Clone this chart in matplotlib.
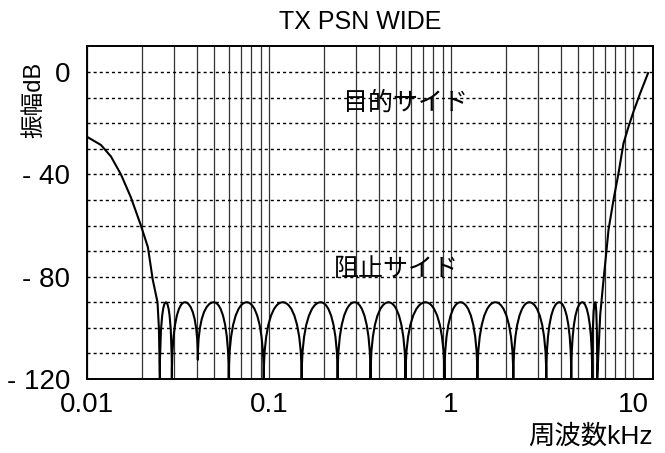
import numpy as np
import matplotlib
matplotlib.use("Agg")
import matplotlib.pyplot as plt
from matplotlib.path import Path
from matplotlib.patches import PathPatch
from matplotlib.ticker import LogLocator, FixedLocator, NullFormatter

plt.rcParams['font.family'] = ['Liberation Sans', 'Noto Sans CJK JP']

# --- data (frequency in kHz, level in dB) ---
# left skirt, falling into the first null
left_f = [0.01, 0.01193, 0.01354, 0.01536, 0.01743, 0.01978, 0.02161, 0.02295, 0.0244, 0.02483]
left_db = [-25.3, -28.5, -33, -40, -49, -60, -68.5, -81, -90, -100]

# stop band nulls and the ripple peaks between them
null_f = [0.02514, 0.02926, 0.04063, 0.0601, 0.09353, 0.1511, 0.2382, 0.3613,
          0.5622, 0.9201, 1.396, 2.199, 3.337, 4.576, 5.967, 6.355]
null_db = [-120, -120, -112.5, -120, -120, -120, -120, -120,
           -120, -120, -120, -120, -120, -120, -120, -120]
peak_f = [0.02713, 0.03448, 0.04973, 0.07545, 0.1189, 0.1921, 0.2952, 0.4536,
          0.7238, 1.126, 1.752, 2.692, 3.932, 5.258, 6.196]
peak_db = [-90, -90, -90, -90, -90, -90, -90, -90,
           -90, -90, -90, -90, -90, -90, -90]

# right skirt, rising out of the last null
right_f = [6.599, 6.855, 7.118, 7.33, 7.806, 8.317, 8.859, 9.436, 10.05, 10.94, 12.15]
right_db = [-95, -82.5, -71, -61.7, -50, -39.6, -27.9, -21.4, -15.5, -8.3, 0]

xticks = [0.01, 0.1, 1, 10]
xticklabels = ['0.01', '0.1', '1', '10']
yticks = [0, -40, -80, -120]
yticklabels = ['0', '- 40', '- 80', '- 120']

title = 'TX PSN WIDE'
ylabel = '振幅dB'
xlabel = '周波数kHz'
pass_label = '目的サイド'
stop_label = '阻止サイド'

# --- figure ---
W, H = 665, 453
fig = plt.figure(figsize=(W / 100, H / 100), dpi=100)
ax = fig.add_axes([87 / W, 1 - 379 / H, (653 - 87) / W, (379 - 46) / H])

ax.set_xscale('log')
ax.set_xlim(0.01, 12.87)
ax.set_ylim(-120, 10.2)

# grid: solid verticals on the log subdivisions, dotted horizontals every 10 dB
ax.xaxis.set_minor_locator(LogLocator(base=10, subs=np.arange(2, 10)))
ax.xaxis.set_minor_formatter(NullFormatter())
ax.yaxis.set_minor_locator(FixedLocator(np.arange(-110, 10, 10)))
ax.grid(axis='x', which='both', color='#333333', lw=0.9, ls='-')
ax.grid(axis='y', which='both', color='black', lw=1.0, ls=(0, (2.2, 2.2)))
ax.set_axisbelow(True)

ax.set_xticks(xticks)
ax.set_xticklabels(xticklabels)
ax.set_yticks(yticks)
ax.set_yticklabels(yticklabels)
ax.tick_params(which='both', length=0)
ax.tick_params(axis='x', labelsize=20, pad=9)
ax.tick_params(axis='y', labelsize=20, pad=12)
for s in ax.spines.values():
    s.set_linewidth(1.4)

# response curve: skirts as polylines, ripple lobes as bezier arches
verts = [(left_f[0], left_db[0])]
codes = [Path.MOVETO]
for f, d in zip(left_f[1:], left_db[1:]):
    verts.append((f, d))
    codes.append(Path.LINETO)
verts.append((null_f[0], null_db[0]))
codes.append(Path.LINETO)
rise = 0.72
for i in range(len(peak_f)):
    fa, da = null_f[i], null_db[i]
    fp, dp = peak_f[i], peak_db[i]
    fb, db = null_f[i + 1], null_db[i + 1]
    verts += [(fa, da + rise * (dp - da)), (np.sqrt(fa * fp), dp), (fp, dp)]
    codes += [Path.CURVE4] * 3
    verts += [(np.sqrt(fp * fb), dp), (fb, db + rise * (dp - db)), (fb, db)]
    codes += [Path.CURVE4] * 3
for f, d in zip(right_f, right_db):
    verts.append((f, d))
    codes.append(Path.LINETO)
ax.add_patch(PathPatch(Path(verts, codes), fill=False, edgecolor='black', lw=1.5,
                       joinstyle='round', zorder=3))

ax.text(0.56, -12, pass_label, fontsize=18, ha='center', va='center', zorder=4)
ax.text(0.5, -77, stop_label, fontsize=18, ha='center', va='center', zorder=4)

fig.text(360 / W, 1 - 22 / H, title, fontsize=18, ha='center', va='center')
fig.text(34 / W, 1 - 100 / H, ylabel, fontsize=17, ha='center', va='center', rotation=90)
fig.text(590 / W, 1 - 437 / H, xlabel, fontsize=19, ha='center', va='center')

fig.savefig('out.png', dpi=100)
